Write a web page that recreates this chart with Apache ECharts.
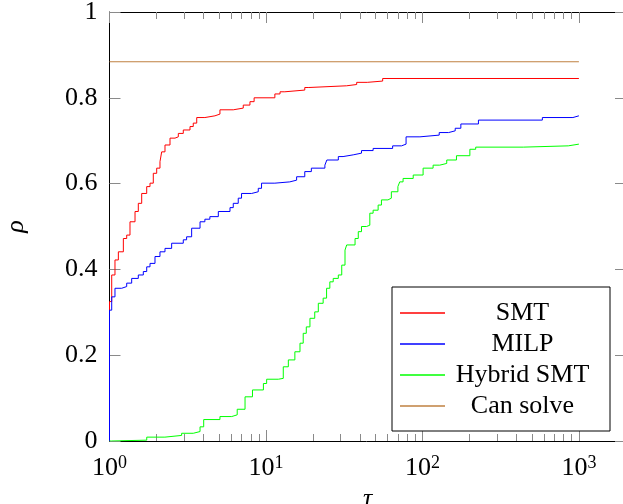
<!DOCTYPE html>
<html>
<head>
<meta charset="utf-8">
<script src="https://cdn.jsdelivr.net/npm/echarts@6/dist/echarts.min.js"></script>
<style>html,body{margin:0;padding:0;background:#fff}#c{width:623px;height:504px}</style>
</head>
<body>
<div id="c"></div>
<script>
var seriesNames = ['SMT', 'MILP', 'Hybrid SMT', 'Can solve'];
var seriesColors = ['#ff0000', '#0000ff', '#00ff00', '#bf8040'];

var smtX = [1, 1, 1.033, 1.084, 1.139, 1.226, 1.288, 1.352, 1.456, 1.528, 1.606, 1.729, 1.815, 1.905, 2.003, 2.102, 2.155, 2.263, 2.436, 2.622, 2.753, 2.962, 3.27, 3.43, 3.61, 4.07, 4.72, 5.08, 6.18, 7.16, 7.90, 8.40, 11.4, 12.3, 13.2, 17.7, 18.8, 32.8, 38.0, 44.4, 55.7, 1000];
var smtY = [0, 0.325, 0.387, 0.422, 0.441, 0.472, 0.480, 0.511, 0.535, 0.554, 0.577, 0.593, 0.601, 0.624, 0.636, 0.651, 0.674, 0.690, 0.706, 0.709, 0.717, 0.725, 0.733, 0.741, 0.754, 0.758, 0.762, 0.772, 0.776, 0.783, 0.791, 0.800, 0.809, 0.814, 0.818, 0.824, 0.828, 0.831, 0.836, 0.839, 0.845, 0.845];

var milpX = [1, 1, 1.033, 1.084, 1.196, 1.288, 1.386, 1.528, 1.645, 1.729, 1.815, 1.953, 2.102, 2.263, 2.496, 2.962, 3.11, 3.35, 3.79, 4.07, 4.38, 4.96, 5.89, 6.18, 6.65, 6.98, 8.10, 8.93, 9.37, 11.4, 14.2, 15.7, 17.7, 19.5, 23.8, 24.5, 29.0, 31.1, 36.1, 40.8, 48.4, 64.5, 73.5, 78.6, 96.4, 128, 147, 162, 176, 228, 584, 916, 1000];
var milpY = [0, 0.305, 0.336, 0.356, 0.360, 0.368, 0.379, 0.387, 0.395, 0.406, 0.414, 0.430, 0.441, 0.449, 0.461, 0.469, 0.476, 0.496, 0.511, 0.517, 0.523, 0.535, 0.544, 0.554, 0.566, 0.577, 0.581, 0.589, 0.601, 0.604, 0.608, 0.616, 0.628, 0.636, 0.643, 0.655, 0.663, 0.667, 0.671, 0.677, 0.682, 0.688, 0.692, 0.709, 0.713, 0.719, 0.723, 0.729, 0.739, 0.748, 0.754, 0.758, 0.758];

var hybX = [1, 1.03, 1.73, 2.26, 2.89, 3.43, 3.79, 4.0, 5.08, 6.04, 6.55, 7.35, 8.2, 9.63, 10.1, 12.0, 12.9, 13.9, 15.3, 16.5, 17.3, 18.1, 19.1, 20.5, 21.6, 23.2, 24.4, 25.6, 26.9, 29.0, 30.5, 32.0, 32.8, 37.1, 38.9, 40.8, 43.9, 46.1, 48.4, 52.1, 54.7, 60.2, 63.3, 69.7, 71.6, 75.2, 87.3, 101, 117, 129, 143, 165, 201, 219, 441, 855, 1000];
var hybY = [0, 0.002, 0.009, 0.013, 0.018, 0.022, 0.033, 0.050, 0.057, 0.061, 0.074, 0.103, 0.119, 0.134, 0.144, 0.146, 0.173, 0.189, 0.208, 0.228, 0.251, 0.266, 0.286, 0.301, 0.321, 0.333, 0.356, 0.371, 0.379, 0.387, 0.410, 0.445, 0.457, 0.472, 0.488, 0.500, 0.503, 0.531, 0.538, 0.550, 0.562, 0.566, 0.581, 0.593, 0.604, 0.612, 0.620, 0.636, 0.643, 0.647, 0.655, 0.665, 0.680, 0.685, 0.688, 0.692, 0.692];

var canX = [1, 1000];
var canY = [0.884, 0.884];

var xMajorTicks = [1, 10, 100, 1000];
var xMinorTicks = [2, 3, 4, 5, 6, 7, 8, 9, 20, 30, 40, 50, 60, 70, 80, 90, 200, 300, 400, 500, 600, 700, 800, 900];
var yTicks = [0, 0.2, 0.4, 0.6, 0.8, 1];

function zip(xs, ys) { return xs.map(function (x, i) { return [x, ys[i]]; }); }

var FONT = 'Liberation Serif';
var tickColor = '#8a8a8a';

function xAxisBase(pos, major, showLabel) {
  return {
    type: 'log', logBase: 10, min: 1, max: 2000, position: pos, gridIndex: 0,
    axisLine: { show: major, lineStyle: { color: '#000', width: 1 } },
    axisTick: { show: true, inside: true, length: major ? 11 : 7,
      customValues: major ? xMajorTicks : xMinorTicks,
      lineStyle: { color: tickColor, width: 1 } },
    axisLabel: showLabel ? {
      show: true, customValues: xMajorTicks, margin: 13,
      formatter: function (v) { return '{b|10}{s|' + Math.round(Math.log10(v)) + '}'; },
      rich: {
        b: { fontFamily: FONT, fontSize: 26, color: '#000', lineHeight: 28 },
        s: { fontFamily: FONT, fontSize: 18, color: '#000', verticalAlign: 'top', lineHeight: 18 }
      }
    } : { show: false },
    splitLine: { show: false }, minorTick: { show: false }, minorSplitLine: { show: false }
  };
}

var xAxes = [
  xAxisBase('bottom', true, true),
  xAxisBase('bottom', false, false),
  xAxisBase('top', true, false),
  xAxisBase('top', false, false)
];
xAxes[0].name = 'τ';
xAxes[0].nameLocation = 'middle';
xAxes[0].nameGap = 40;
xAxes[0].nameTextStyle = { fontFamily: FONT, fontStyle: 'italic', fontSize: 26, color: '#000' };

function yAxisBase(pos, showLabel) {
  return {
    type: 'value', min: 0, max: 1, interval: 0.2, position: pos,
    axisLine: { show: true, lineStyle: { color: '#000', width: 1 } },
    axisTick: { show: true, inside: true, length: 11, customValues: yTicks, lineStyle: { color: tickColor, width: 1 } },
    axisLabel: showLabel ? {
      show: true, margin: 12, fontFamily: FONT, fontSize: 26, color: '#000',
      formatter: function (v) { return (v === 0 || v === 1) ? String(v) : v.toFixed(1); }
    } : { show: false },
    splitLine: { show: false }
  };
}
var yAxes = [yAxisBase('left', true), yAxisBase('right', false)];
yAxes[0].name = 'ρ';
yAxes[0].nameLocation = 'middle';
yAxes[0].nameGap = 80;
yAxes[0].nameTextStyle = { fontFamily: FONT, fontStyle: 'italic', fontSize: 26, color: '#000' };

var datasets = [zip(smtX, smtY), zip(milpX, milpY), zip(hybX, hybY), zip(canX, canY)];

var series = datasets.map(function (d, i) {
  return {
    name: seriesNames[i], type: 'line', data: d, step: i === 3 ? false : 'end',
    xAxisIndex: 0, yAxisIndex: 0, symbol: 'none', showSymbol: false,
    color: seriesColors[i],
    itemStyle: { color: seriesColors[i] },
    lineStyle: { color: seriesColors[i], width: 1 },
    z: 2 + i, animation: false
  };
});

var chart = echarts.init(document.getElementById('c'), null, { renderer: 'canvas' });
chart.setOption({
  animation: false,
  backgroundColor: '#fff',
  color: seriesColors,
  grid: { left: 109.5, right: -3, top: 12, bottom: 63, containLabel: false, outerBoundsMode: 'none' },
  xAxis: xAxes,
  yAxis: yAxes,
  legend: {
    data: seriesNames.map(function (n, i) { return { name: n, itemStyle: { color: seriesColors[i] } }; }),
    orient: 'vertical', left: 392, top: 287,
    icon: 'rect', itemWidth: 45, itemHeight: 1.5, itemGap: 5,
    padding: [13, 15, 12, 8], borderColor: '#000', borderWidth: 1, backgroundColor: '#fff',
    selectedMode: false,
    formatter: function (n) { return '{t|' + n + '}'; },
    textStyle: {
      fontFamily: FONT, fontSize: 26, color: '#000',
      rich: { t: { fontFamily: FONT, fontSize: 26, color: '#000', width: 145, align: 'center', lineHeight: 26 } }
    }
  },
  series: series
});
</script>
</body>
</html>
